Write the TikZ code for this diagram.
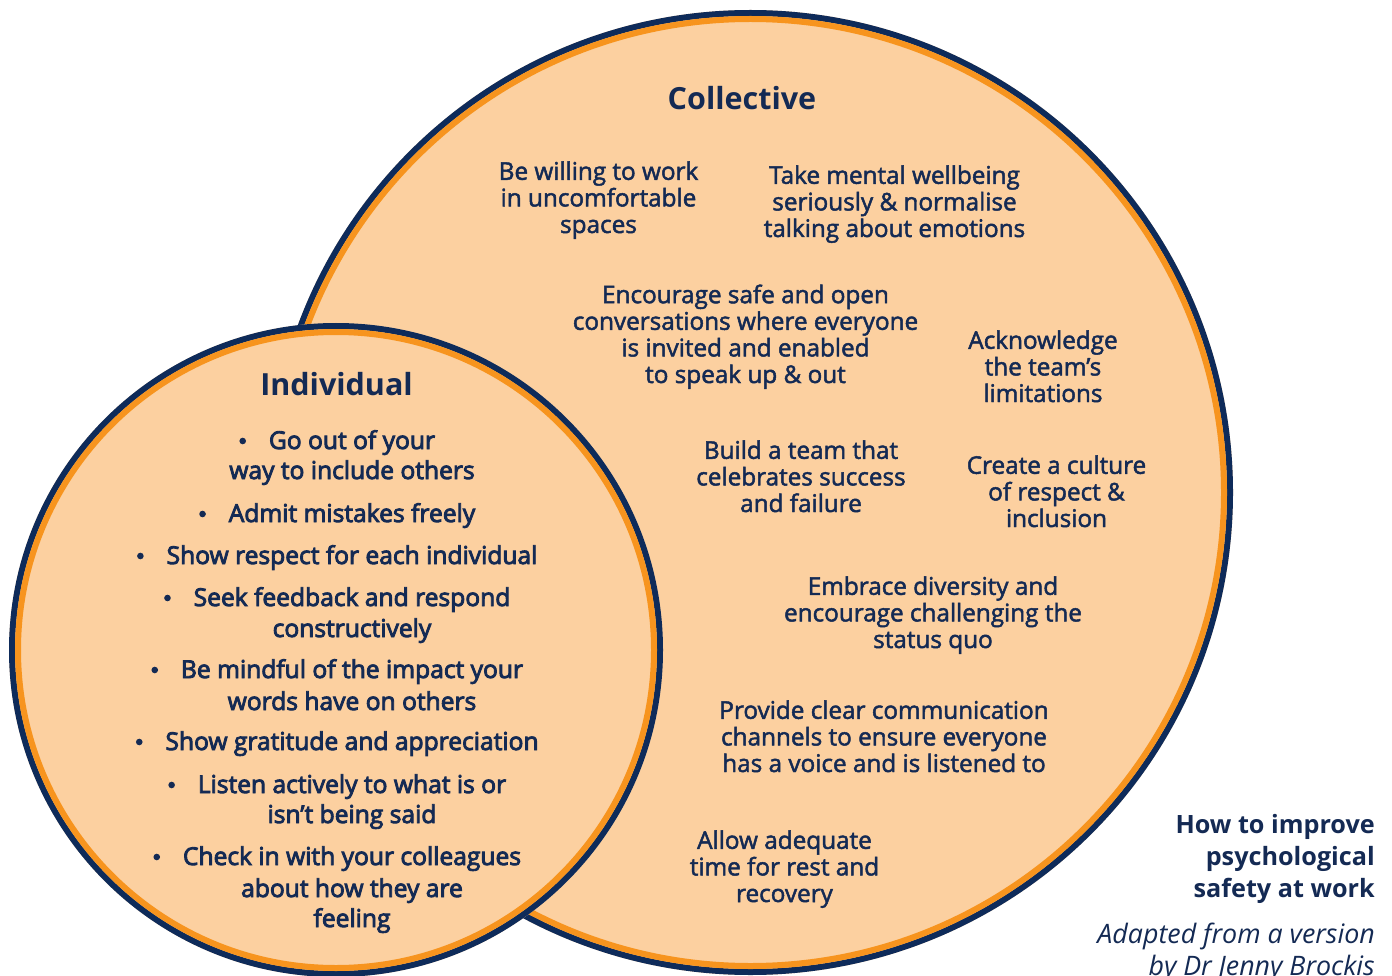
\documentclass[tikz,border=0pt]{standalone}
\usepackage{fontspec}
\setmainfont{Open Sans}
\newfontfamily\colfont{Open Sans}[FakeBold=2]
\newfontfamily\indfont{Open Sans}[FakeBold=3.5]
\definecolor{peach}{RGB}{252,208,160}
\definecolor{ringorange}{RGB}{247,148,30}
\definecolor{navyc}{RGB}{14,43,90}
\definecolor{txt}{RGB}{20,42,84}
\tikzset{
  coltext/.style={font=\colfont\fontsize{24.3}{26.6}\selectfont, text=txt, align=center, anchor=base, inner sep=0pt},
  indtext/.style={font=\indfont\fontsize{24.6}{30}\selectfont, text=txt, align=center, anchor=base, inner sep=0pt},
  titletext/.style={font=\bfseries\fontsize{30.5}{34}\selectfont, text=txt, anchor=base, inner sep=0pt},
  headtext/.style={font=\bfseries\fontsize{25.2}{32}\selectfont, text=txt, align=right, anchor=base east, inner sep=0pt},
  credtext/.style={font=\itshape\fontsize{26.8}{32}\selectfont, text=txt, align=right, anchor=base east, inner sep=0pt},
  bulletdot/.style={fill=txt},
  ringnavy/.style={draw=navyc, line width=6pt},
  ringorg/.style={draw=ringorange, line width=6pt},
}
\begin{document}
\begin{tikzpicture}[x=1pt,y=-1pt]
\useasboundingbox (0,0) rectangle (1392,976);
% big circle (Collective)
\coordinate (bigc) at (750.5,492.5);
\fill[peach] (bigc) circle (482.5);
\draw[ringnavy] (bigc) circle (479.5);
\draw[ringorg] (bigc) circle (473.5);
% small circle (Individual)
\coordinate (smc) at (336,650);
\fill[peach] (smc) circle (327);
\draw[ringnavy] (smc) circle (324);
\draw[ringorg] (smc) circle (318);

\node[titletext] (coltitle) at (742,110) {Collective};
\node[titletext] (indtitle) at (336.5,395) {Individual};

% multi-line nodes: anchor base = baseline of last line
\node[coltext] (c1) at (598.5,233) {Be willing to work\\in uncomfortable\\spaces};
\node[coltext] (c2) at (894.5,237) {Take mental wellbeing\\seriously \& normalise\\talking about emotions};
\node[coltext] (c3) at (745.5,383) {Encourage safe and open\\conversations where everyone\\is invited and enabled\\to speak up \& out};
\node[coltext] (c4) at (1043,402) {Acknowledge\\the team’s\\limitations};
\node[coltext] (c5) at (801,512) {Build a team that\\celebrates success\\and failure};
\node[coltext] (c6) at (1056.5,527) {Create a culture\\of respect \&\\inclusion};
\node[coltext] (c7) at (933,648) {Embrace diversity and\\encourage challenging the\\status quo};
\node[coltext] (c8) at (884,772) {Provide clear communication\\channels to ensure everyone\\has a voice and is listened to};
\node[coltext] (c9) at (784.5,902) {Allow adequate\\time for rest and\\recovery};

\node[indtext] (i1) at (352,449) {Go out of your};
\node[indtext] (i1b) at (352,479) {way to include others};
\node[indtext] (i2) at (352,522) {Admit mistakes freely};
\node[indtext] (i3) at (352,564) {Show respect for each individual};
\node[indtext] (i4) at (352,606) {Seek feedback and respond};
\node[indtext] (i4b) at (352,637) {constructively};
\node[indtext] (i5) at (352,678) {Be mindful of the impact your};
\node[indtext] (i5b) at (352,710) {words have on others};
\node[indtext] (i6) at (352,750) {Show gratitude and appreciation};
\node[indtext] (i7) at (352,793) {Listen actively to what is or};
\node[indtext] (i7b) at (352,823) {isn’t being said};
\node[indtext] (i8) at (352,865) {Check in with your colleagues};
\node[indtext] (i8b) at (352,897) {about how they are};
\node[indtext] (i8c) at (352,927) {feeling};

\foreach \n in {i1,i2,i3,i4,i5,i6,i7,i8}{
  \fill[bulletdot] ([xshift=-26pt,yshift=8pt]\n.base west) circle (3.3);
}

\node[headtext] (head) at (1375,897) {How to improve\\psychological\\safety at work};
\node[credtext] (cred) at (1375,975) {Adapted from a version\\by Dr Jenny Brockis};
\end{tikzpicture}
\end{document}
